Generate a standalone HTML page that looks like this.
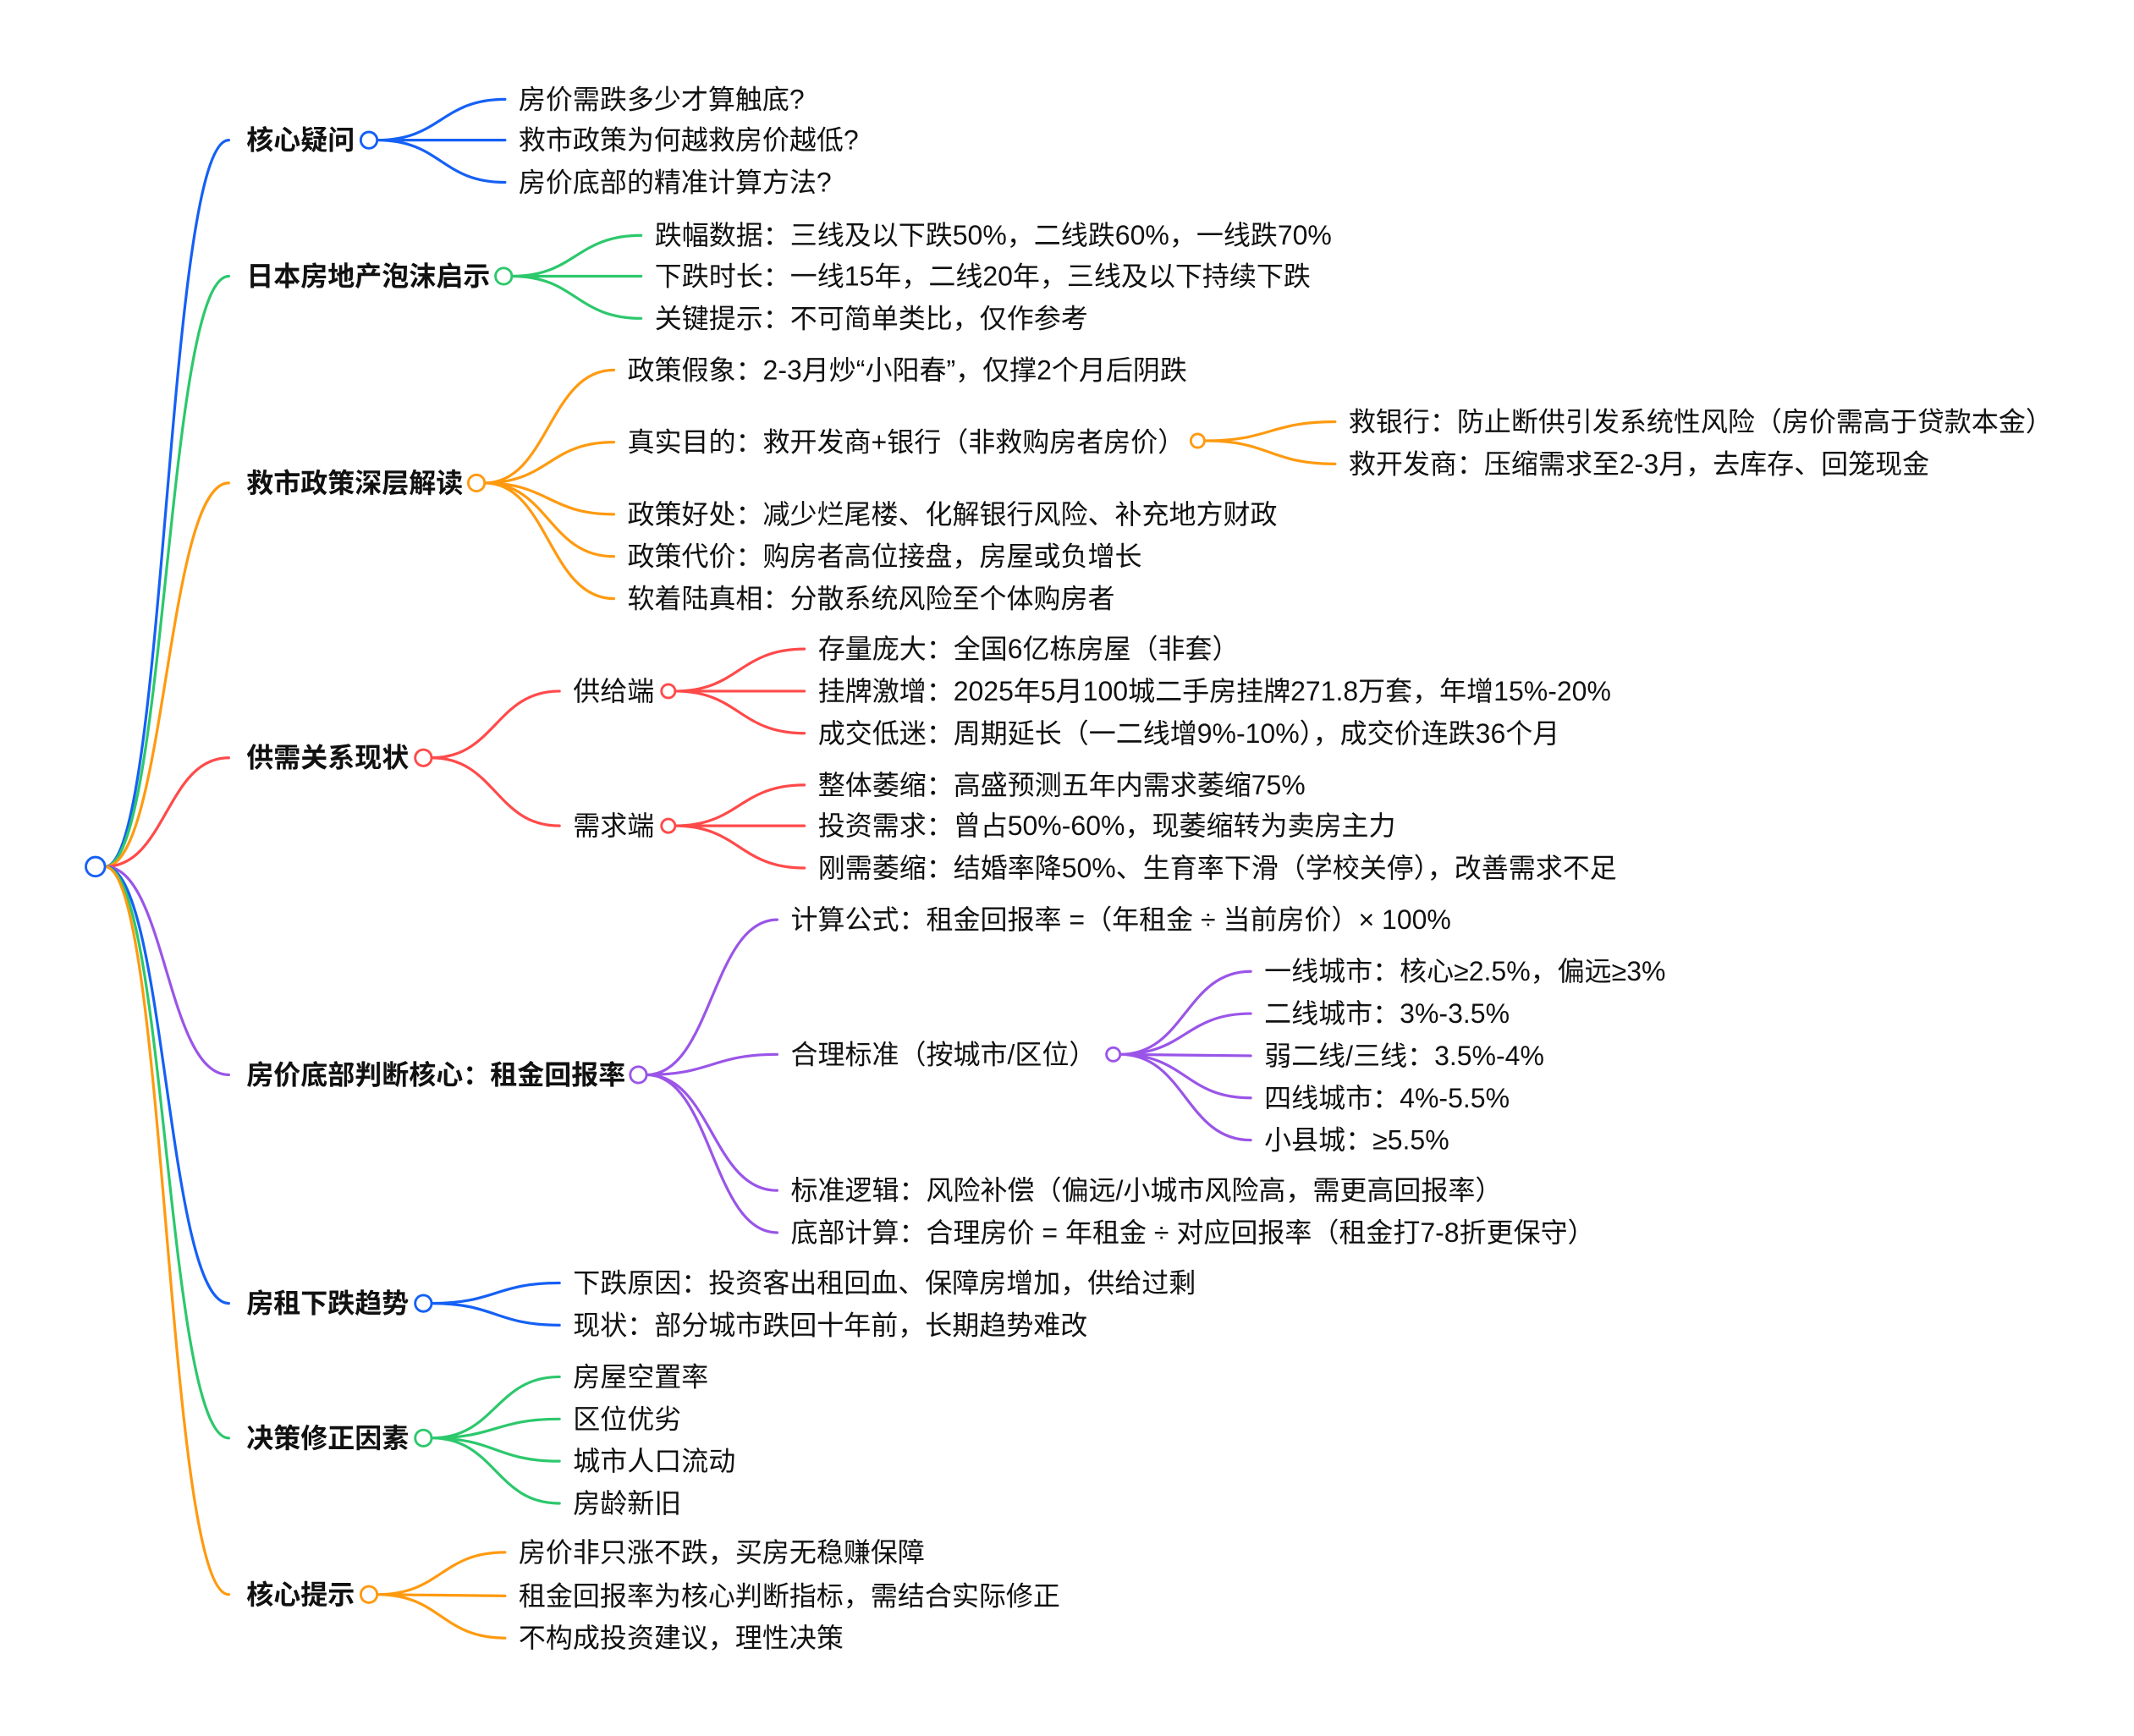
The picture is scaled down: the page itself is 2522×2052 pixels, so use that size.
<!DOCTYPE html>
<html><head><meta charset="utf-8"><style>
html,body{margin:0;padding:0;background:#fff}
svg{display:block}
text{font-family:"Liberation Sans","Noto Sans CJK SC",sans-serif;font-size:19.9px;fill:#111;dominant-baseline:central}
.b{font-weight:bold}
path{fill:none;stroke-width:2;stroke-linecap:round}
circle{fill:#fff;stroke-width:1.8}
.bl{stroke:#1560f5}.gr{stroke:#2cc86c}.or{stroke:#ff9a10}.rd{stroke:#ff4a4a}.pu{stroke:#9a55e8}
</style></head><body>
<svg width="2522" height="2052" viewBox="0 0 1568 1276" xmlns="http://www.w3.org/2000/svg">
<path class="bl" d="M77 637 C122 637 122 103 168 103"/>
<path class="gr" d="M77 637 C122 637 122 203 168 203"/>
<path class="or" d="M77 637 C122 637 122 355 168 355"/>
<path class="rd" d="M77 637 C122 637 122 557 168 557"/>
<path class="pu" d="M77 637 C122 637 122 790 168 790"/>
<path class="bl" d="M77 637 C122 637 122 958 168 958"/>
<path class="gr" d="M77 637 C122 637 122 1057 168 1057"/>
<path class="or" d="M77 637 C122 637 122 1172 168 1172"/>
<circle class="bl" cx="70" cy="637" r="7"/>

<text class="b" x="181" y="103">核心疑问</text>
<path class="bl" d="M277 103 C324 103 324 73 371 73 M277 103 L371 103 M277 103 C324 103 324 134 371 134"/>
<circle class="bl" cx="271" cy="103" r="6"/>
<text x="381" y="73">房价需跌多少才算触底?</text>
<text x="381" y="103">救市政策为何越救房价越低?</text>
<text x="381" y="134">房价底部的精准计算方法?</text>

<text class="b" x="181" y="203">日本房地产泡沫启示</text>
<path class="gr" d="M376 203 C423 203 423 173 471 173 M376 203 L471 203 M376 203 C423 203 423 234 471 234"/>
<circle class="gr" cx="370" cy="203" r="6"/>
<text x="481" y="173">跌幅数据：三线及以下跌50%，二线跌60%，一线跌70%</text>
<text x="481" y="203">下跌时长：一线15年，二线20年，三线及以下持续下跌</text>
<text x="481" y="234">关键提示：不可简单类比，仅作参考</text>

<text class="b" x="181" y="355">救市政策深层解读</text>
<path class="or" d="M356 355 C403 355 403 272 451 272 M356 355 C403 355 403 325 451 325 M356 355 C403 355 403 378 451 378 M356 355 C403 355 403 409 451 409 M356 355 C403 355 403 440 451 440"/>
<circle class="or" cx="350" cy="355" r="6"/>
<text x="461" y="272">政策假象：2-3月炒“小阳春”，仅撑2个月后阴跌</text>
<text x="461" y="325">真实目的：救开发商+银行（非救购房者房价）</text>
<text x="461" y="378">政策好处：减少烂尾楼、化解银行风险、补充地方财政</text>
<text x="461" y="409">政策代价：购房者高位接盘，房屋或负增长</text>
<text x="461" y="440">软着陆真相：分散系统风险至个体购房者</text>
<path class="or" d="M886 324 C933 324 933 310 981 310 M886 324 C933 324 933 341 981 341"/>
<circle class="or" cx="880" cy="324" r="5"/>
<text x="991" y="310">救银行：防止断供引发系统性风险（房价需高于贷款本金）</text>
<text x="991" y="341">救开发商：压缩需求至2-3月，去库存、回笼现金</text>

<text class="b" x="181" y="557">供需关系现状</text>
<path class="rd" d="M317 557 C364 557 364 508 411 508 M317 557 C364 557 364 607 411 607"/>
<circle class="rd" cx="311" cy="557" r="6"/>
<text x="421" y="508">供给端</text>
<text x="421" y="607">需求端</text>
<path class="rd" d="M496 508 C543 508 543 477 591 477 M496 508 L591 508 M496 508 C543 508 543 539 591 539"/>
<path class="rd" d="M496 607 C543 607 543 577 591 577 M496 607 L591 607 M496 607 C543 607 543 638 591 638"/>
<circle class="rd" cx="491" cy="508" r="5"/>
<circle class="rd" cx="491" cy="607" r="5"/>
<text x="601" y="477">存量庞大：全国6亿栋房屋（非套）</text>
<text x="601" y="508">挂牌激增：2025年5月100城二手房挂牌271.8万套，年增15%-20%</text>
<text x="601" y="539">成交低迷：周期延长（一二线增9%-10%），成交价连跌36个月</text>
<text x="601" y="577">整体萎缩：高盛预测五年内需求萎缩75%</text>
<text x="601" y="607">投资需求：曾占50%-60%，现萎缩转为卖房主力</text>
<text x="601" y="638">刚需萎缩：结婚率降50%、生育率下滑（学校关停），改善需求不足</text>

<text class="b" x="181" y="790">房价底部判断核心：租金回报率</text>
<path class="pu" d="M475 790 C523 790 523 676 571 676 M475 790 C523 790 523 775 571 775 M475 790 C523 790 523 875 571 875 M475 790 C523 790 523 906 571 906"/>
<circle class="pu" cx="469" cy="790" r="6"/>
<text x="581" y="676">计算公式：租金回报率 =（年租金 ÷ 当前房价）× 100%</text>
<text x="581" y="775">合理标准（按城市/区位）</text>
<text x="581" y="875">标准逻辑：风险补偿（偏远/小城市风险高，需更高回报率）</text>
<text x="581" y="906">底部计算：合理房价 = 年租金 ÷ 对应回报率（租金打7-8折更保守）</text>
<path class="pu" d="M823 775 C871 775 871 714 919 714 M823 775 C871 775 871 745 919 745 M823 775 L919 776 M823 775 C871 775 871 807 919 807 M823 775 C871 775 871 838 919 838"/>
<circle class="pu" cx="818" cy="775" r="5"/>
<text x="929" y="714">一线城市：核心≥2.5%，偏远≥3%</text>
<text x="929" y="745">二线城市：3%-3.5%</text>
<text x="929" y="776">弱二线/三线：3.5%-4%</text>
<text x="929" y="807">四线城市：4%-5.5%</text>
<text x="929" y="838">小县城：≥5.5%</text>

<text class="b" x="181" y="958">房租下跌趋势</text>
<path class="bl" d="M317 958 C364 958 364 943 411 943 M317 958 C364 958 364 974 411 974"/>
<circle class="bl" cx="311" cy="958" r="6"/>
<text x="421" y="943">下跌原因：投资客出租回血、保障房增加，供给过剩</text>
<text x="421" y="974">现状：部分城市跌回十年前，长期趋势难改</text>

<text class="b" x="181" y="1057">决策修正因素</text>
<path class="gr" d="M317 1057 C364 1057 364 1012 411 1012 M317 1057 C364 1057 364 1043 411 1043 M317 1057 C364 1057 364 1074 411 1074 M317 1057 C364 1057 364 1105 411 1105"/>
<circle class="gr" cx="311" cy="1057" r="6"/>
<text x="421" y="1012">房屋空置率</text>
<text x="421" y="1043">区位优劣</text>
<text x="421" y="1074">城市人口流动</text>
<text x="421" y="1105">房龄新旧</text>

<text class="b" x="181" y="1172">核心提示</text>
<path class="or" d="M277 1172 C324 1172 324 1141 371 1141 M277 1172 L371 1173 M277 1172 C324 1172 324 1204 371 1204"/>
<circle class="or" cx="271" cy="1172" r="6"/>
<text x="381" y="1141">房价非只涨不跌，买房无稳赚保障</text>
<text x="381" y="1173">租金回报率为核心判断指标，需结合实际修正</text>
<text x="381" y="1204">不构成投资建议，理性决策</text>
</svg>
</body></html>
